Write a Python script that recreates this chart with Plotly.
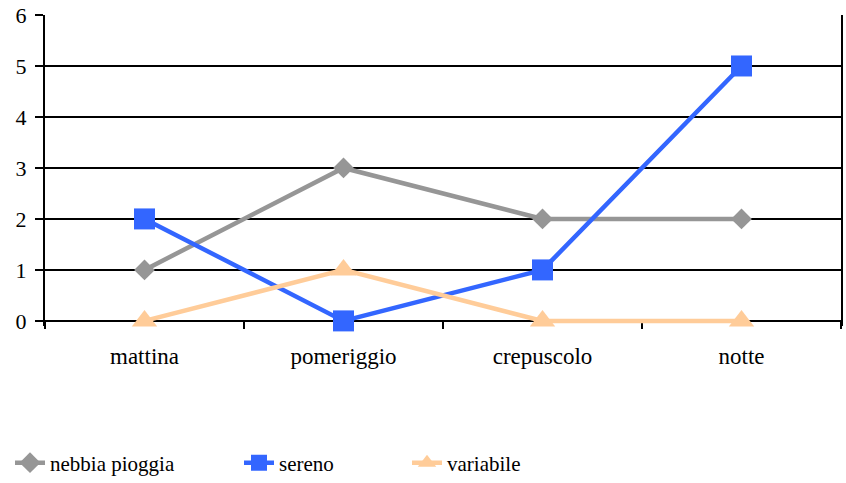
import plotly.graph_objects as go

categories = ["mattina", "pomeriggio", "crepuscolo", "notte"]
nebbia_pioggia = [1, 3, 2, 2]
sereno = [2, 0, 1, 5]
variabile = [0, 1, 0, 0]
y_ticks = [0, 1, 2, 3, 4, 5, 6]
y_range = [-0.1, 6]

FONT = "'Liberation Serif', 'Times New Roman', Times, serif"

fig = go.Figure()
fig.add_trace(go.Scatter(
    x=categories, y=nebbia_pioggia, name="nebbia pioggia", mode="lines+markers",
    line=dict(color="#969696", width=4.5),
    marker=dict(symbol="diamond", size=16, color="#969696"),
    cliponaxis=False, legend="legend"))
fig.add_trace(go.Scatter(
    x=categories, y=sereno, name="sereno", mode="lines+markers",
    line=dict(color="#3366FF", width=4.5),
    marker=dict(symbol="square", size=21, color="#3366FF"),
    cliponaxis=False, legend="legend2"))
fig.add_trace(go.Scatter(
    x=categories, y=variabile, name="variabile", mode="lines+markers",
    line=dict(color="#FFCC99", width=4.5),
    marker=dict(symbol="triangle-up", size=22, color="#FFCC99"),
    cliponaxis=False, legend="legend3"))

leg_common = dict(orientation="h", xref="container", yref="container",
                  yanchor="middle", y=1 - 463 / 483, xanchor="left",
                  font=dict(family=FONT, size=21, color="black"),
                  bgcolor="rgba(0,0,0,0)")

fig.update_layout(
    width=846, height=483,
    margin=dict(l=45, r=3, t=13, b=157),
    paper_bgcolor="white", plot_bgcolor="white",
    font=dict(family=FONT, color="black"),
    showlegend=True,
    legend=dict(x=10 / 846, **leg_common),
    legend2=dict(x=239 / 846, **leg_common),
    legend3=dict(x=407 / 846, **leg_common),
    xaxis=dict(
        type="category", categoryorder="array", categoryarray=categories,
        range=[-0.5, 3.5], tickson="boundaries", ticks="outside",
        anchor="free", position=(0 - y_range[0]) / (y_range[1] - y_range[0]),
        ticklen=7, tickwidth=2, tickcolor="black", layer="below traces",
        showline=True, linecolor="black", linewidth=2,
        showgrid=False, ticklabelstandoff=14,
        tickfont=dict(family=FONT, size=23, color="black"),
    ),
    yaxis=dict(
        range=y_range, tickvals=y_ticks, ticks="outside",
        ticklen=8, tickwidth=2, tickcolor="black", layer="below traces",
        showline=True, linecolor="black", linewidth=2, mirror=True,
        showgrid=True, gridcolor="black", gridwidth=2, zeroline=False,
        ticklabelstandoff=4,
        tickfont=dict(family=FONT, size=22, color="black"),
    ),
)

fig.write_html("out.html")
